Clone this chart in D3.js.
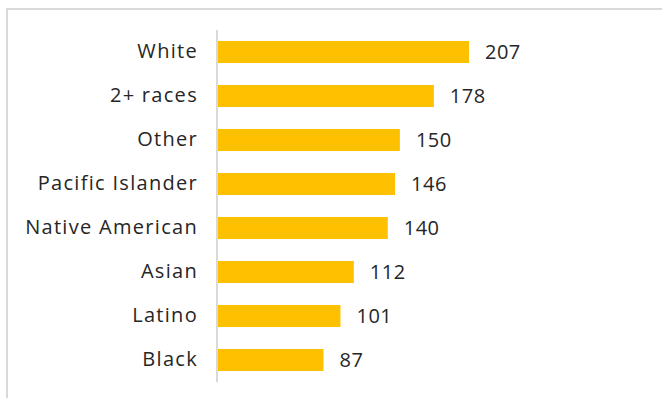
<!DOCTYPE html>
<html>
<head>
<meta charset="utf-8">
<script src="https://cdn.jsdelivr.net/npm/d3@7"></script>
<style>
  html, body { margin: 0; padding: 0; background: #fff; }
  svg { display: block; }
  text { font-family: "Open Sans", Lato, sans-serif; fill: #262626; }
</style>
</head>
<body>
<svg id="chart" width="662" height="398"></svg>
<script>
// Groups, top to bottom, and their values
const categories = ["White", "2+ races", "Other", "Pacific Islander", "Native American", "Asian", "Latino", "Black"];
const values = [207, 178, 150, 146, 140, 112, 101, 87];

const data = categories.map((c, i) => ({ category: c, value: values[i] }));

const svg = d3.select("#chart");
const width = 662, height = 398;

// Chart area frame
svg.append("rect")
  .attr("x", 7).attr("y", 9)
  .attr("width", width + 10).attr("height", height + 10)
  .attr("fill", "none")
  .attr("stroke", "#d9d9d9")
  .attr("stroke-width", 2);

const plotLeft = 218, plotTop = 30, plotBottom = 382;

const x = d3.scaleLinear()
  .domain([0, 207])
  .range([plotLeft, 469]);

const y = d3.scaleBand()
  .domain(categories)
  .range([plotTop, plotBottom])
  .paddingInner(0.5)
  .paddingOuter(0.25);

// Bars
svg.append("g")
  .selectAll("rect")
  .data(data)
  .join("rect")
  .attr("x", x(0))
  .attr("y", d => y(d.category))
  .attr("width", d => x(d.value) - x(0))
  .attr("height", y.bandwidth())
  .attr("fill", "#ffc000");

// Category axis
const yAxis = d3.axisLeft(y).tickSize(0).tickPadding(19);
const gy = svg.append("g")
  .attr("transform", `translate(${plotLeft - 1},0)`)
  .call(yAxis);
gy.select(".domain")
  .attr("stroke", "#d9d9d9")
  .attr("stroke-width", 2)
  .attr("d", `M0,${plotTop}V${plotBottom}`);
gy.selectAll(".tick text")
  .attr("font-size", 20)
  .attr("font-family", null)
  .attr("letter-spacing", 1.3)
  .attr("fill", "#262626");

// Value labels
svg.append("g")
  .selectAll("text")
  .data(data)
  .join("text")
  .attr("x", d => x(d.value) + 16)
  .attr("y", d => y(d.category) + y.bandwidth() / 2)
  .attr("dy", "0.35em")
  .attr("font-size", 20)
  .attr("letter-spacing", 0.5)
  .text(d => d.value);
</script>
</body>
</html>
